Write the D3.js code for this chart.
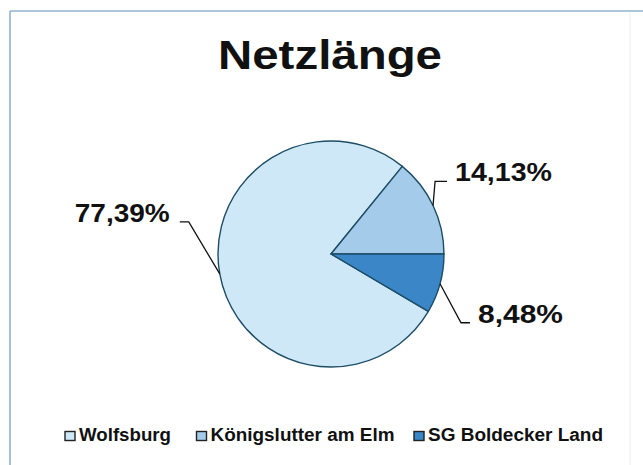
<!DOCTYPE html>
<html>
<head>
<meta charset="utf-8">
<script src="https://cdn.jsdelivr.net/npm/d3@7"></script>
<style>
  html, body { margin: 0; padding: 0; background: #ffffff; }
  svg { display: block; }
  text { font-family: "Liberation Sans", Arial, sans-serif; font-weight: bold; fill: #111111; }
</style>
</head>
<body>
<svg id="chart" width="643" height="465"></svg>
<script>
// Netzlänge: share of network length per municipality
const categories = ["Wolfsburg", "Königslutter am Elm", "SG Boldecker Land"];
const shares = [77.39, 14.13, 8.48];
const labels = ["77,39%", "14,13%", "8,48%"];
const colors = ["#cfe8f8", "#a5cbea", "#3b86c6"];
const title = "Netzlänge";

// Leader-line layout per slice: elbow offset from the slice edge, tail length, label width
const leaderLayout = [
  { dx: -31, dy: -52, tail: -9, width: 95 },
  { dx: 2, dy: -24, tail: 12, width: 97 },
  { dx: 21, dy: 39, tail: 9, width: 85 }
];

const W = 643, H = 465;
const svg = d3.select("#chart");

// outer frame (top and left edges visible, right edge faint)
svg.append("line").attr("x1", 10).attr("y1", 11).attr("x2", W).attr("y2", 11)
  .attr("stroke", "#8fb3cc").attr("stroke-width", 1.6);
svg.append("line").attr("x1", 10).attr("y1", 11).attr("x2", 10).attr("y2", H)
  .attr("stroke", "#8fb3cc").attr("stroke-width", 1.6);
svg.append("line").attr("x1", 630).attr("y1", 12).attr("x2", 630).attr("y2", H)
  .attr("stroke", "#f4ecea").attr("stroke-width", 1);

// title
svg.append("text")
  .attr("x", 330).attr("y", 69)
  .attr("text-anchor", "middle")
  .attr("font-size", 40)
  .attr("textLength", 224).attr("lengthAdjust", "spacingAndGlyphs")
  .text(title);

// pie
const cx = 331, cy = 254, r = 113;
const total = d3.sum(shares);
const startAngle = Math.PI / 2 + 2 * Math.PI * shares[2] / total;
const pie = d3.pie().sort(null).value(d => d)
  .startAngle(startAngle).endAngle(startAngle + 2 * Math.PI);
const arcs = pie(shares);
const arc = d3.arc().innerRadius(0).outerRadius(r);

const g = svg.append("g").attr("transform", `translate(${cx},${cy})`);
g.selectAll("path.slice")
  .data(arcs)
  .join("path")
  .attr("class", "slice")
  .attr("d", arc)
  .attr("fill", (d, i) => colors[i])
  .attr("stroke", "#1d4d66")
  .attr("stroke-width", 1.4)
  .attr("stroke-linejoin", "round");

// leader lines and percentage labels
arcs.forEach((a, i) => {
  const mid = (a.startAngle + a.endAngle) / 2;
  const px = Math.sin(mid) * r, py = -Math.cos(mid) * r;
  const L = leaderLayout[i];
  const ex = px + L.dx, ey = py + L.dy;
  const tx = ex + L.tail;
  g.append("polyline")
    .attr("points", [[px, py], [ex, ey], [tx, ey]].map(p => p.join(",")).join(" "))
    .attr("fill", "none")
    .attr("stroke", "#111111")
    .attr("stroke-width", 1.3);
  const right = L.tail > 0;
  g.append("text")
    .attr("x", right ? tx + 8 : tx - 10)
    .attr("y", ey + 0)
    .attr("text-anchor", right ? "start" : "end")
    .attr("font-size", 26)
    .attr("textLength", L.width).attr("lengthAdjust", "spacingAndGlyphs")
    .text(labels[i]);
});

// legend
const legendX = [65, 196.5, 414];
const legendW = [92, 184, 175];
const legend = svg.append("g").attr("transform", "translate(0,441)");
categories.forEach((c, i) => {
  legend.append("rect")
    .attr("x", legendX[i]).attr("y", -9.5)
    .attr("width", 10).attr("height", 9)
    .attr("fill", colors[i])
    .attr("stroke", "#222222").attr("stroke-width", 1.4);
  legend.append("text")
    .attr("x", legendX[i] + 14).attr("y", 0)
    .attr("font-size", 17.5)
    .attr("fill", "#16222f")
    .attr("textLength", legendW[i]).attr("lengthAdjust", "spacingAndGlyphs")
    .text(c);
});
</script>
</body>
</html>
